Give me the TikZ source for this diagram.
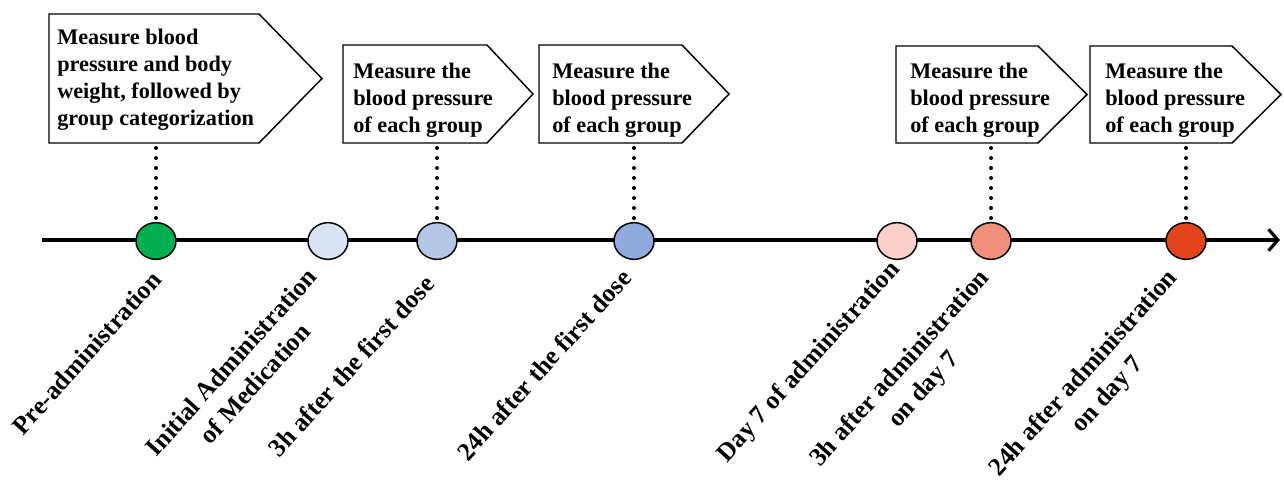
\documentclass[tikz,border=0pt]{standalone}
\usepackage{fontspec}
\setmainfont{Liberation Serif}
\usetikzlibrary{shapes.geometric,arrows.meta}
\definecolor{ptgreen}{HTML}{00B050}
\definecolor{ptblueA}{HTML}{DAE3F3}
\definecolor{ptblueB}{HTML}{B4C7E7}
\definecolor{ptblueC}{HTML}{8FAADC}
\definecolor{ptredA}{HTML}{FCCFC8}
\definecolor{ptredB}{HTML}{F0907A}
\definecolor{ptredC}{HTML}{E4441A}
\tikzset{
  timept/.style={ellipse, draw, line width=1.1pt, minimum width=30pt, minimum height=27.5pt, inner sep=0pt},
  callout/.style={draw, line width=1.1pt, fill=white, line join=miter},
  callouttext/.style={anchor=west, align=left, inner sep=0pt, font=\fontsize{16.7}{20.2}\selectfont\bfseries},
  timelabel/.style={rotate=48, inner sep=0pt, align=center, font=\fontsize{19.2}{24}\selectfont\bfseries},
  dotline/.style={line width=3pt, line cap=round, dash pattern=on 0pt off 7.5pt},
}
\begin{document}
\begin{tikzpicture}[x=0.75pt,y=-0.75pt]
                        \useasboundingbox (0,0) rectangle (1284,481);

                        % Drawing time line
                        \coordinate (tstart) at (42.000000,240.000000);
                        \coordinate (tend) at (1280.000000,240.000000);
                        \draw [line width=3pt, -{Straight Barb[length=7pt,width=16pt,line width=2.4pt]}] (tstart) -- (tend);%

                        % Drawing callout boxes
                        \draw [callout] (49,14) -- (259,14) -- (322,78.5) -- (259,143) -- (49,143) -- cycle;%
                        \node [callouttext] (txtA) at (57,80) {Measure blood\\pressure and body\\weight, followed by\\group categorization};%
                        \coordinate (footA) at (156,143);

                        \draw [callout] (343,45) -- (487,45) -- (533,94) -- (487,143) -- (343,143) -- cycle;%
                        \node [callouttext] (txtB) at (353,100) {Measure the\\blood pressure\\of each group};%
                        \coordinate (footB) at (437,143);

                        \draw [callout] (539,45) -- (682,45) -- (729,94) -- (682,143) -- (539,143) -- cycle;%
                        \node [callouttext] (txtC) at (552,100) {Measure the\\blood pressure\\of each group};%
                        \coordinate (footC) at (634,143);

                        \draw [callout] (896,46) -- (1038,46) -- (1087,94.5) -- (1038,143) -- (896,143) -- cycle;%
                        \node [callouttext] (txtD) at (910,100) {Measure the\\blood pressure\\of each group};%
                        \coordinate (footD) at (991,143);

                        \draw [callout] (1090,46) -- (1232,46) -- (1281,94.5) -- (1232,143) -- (1090,143) -- cycle;%
                        \node [callouttext] (txtE) at (1105,100) {Measure the\\blood pressure\\of each group};%
                        \coordinate (footE) at (1186,143);

                        % Marking time points by circles
                        \node [timept, fill=ptgreen] (pre) at (156,241) {};%
                        \node [timept, fill=ptblueA] (init) at (328,241) {};%
                        \node [timept, fill=ptblueB] (hthree) at (437,241) {};%
                        \node [timept, fill=ptblueC] (htwentyfour) at (634,241) {};%
                        \node [timept, fill=ptredA] (dseven) at (897,241) {};%
                        \node [timept, fill=ptredB] (dsevenhthree) at (991,241) {};%
                        \node [timept, fill=ptredC] (dsevenhtwentyfour) at (1186,241) {};%

                        % Drawing dotted connectors
                        \draw [dotline] (footA) ++(0,5) -- (pre.north);%
                        \draw [dotline] (footB) ++(0,5) -- (hthree.north);%
                        \draw [dotline] (footC) ++(0,5) -- (htwentyfour.north);%
                        \draw [dotline] (footD) ++(0,5) -- (dsevenhthree.north);%
                        \draw [dotline] (footE) ++(0,5) -- (dsevenhtwentyfour.north);%

                        % Labels of time points
                        \node [timelabel, anchor=base east] (lpre) at (163,281) {Pre-administration};%
                        \node [timelabel, anchor=north east] (linit) at (305,266) {Initial Administration\\of Medication};%
                        \node [timelabel, anchor=base east] (lhthree) at (436,285) {3h after the first dose};%
                        \node [timelabel, anchor=base east] (lhtwentyfour) at (633,279) {24h after the first dose};%
                        \node [timelabel, anchor=base east] (ldseven) at (901,270) {Day 7 of administration};%
                        \node [timelabel, anchor=north east] (ldsevenhthree) at (977,266) {3h after administration\\on day 7};%
                        \node [timelabel, anchor=north east] (ldsevenhtwentyfour) at (1165,266) {24h after administration\\on day 7};%
                    \end{tikzpicture}
\end{document}
